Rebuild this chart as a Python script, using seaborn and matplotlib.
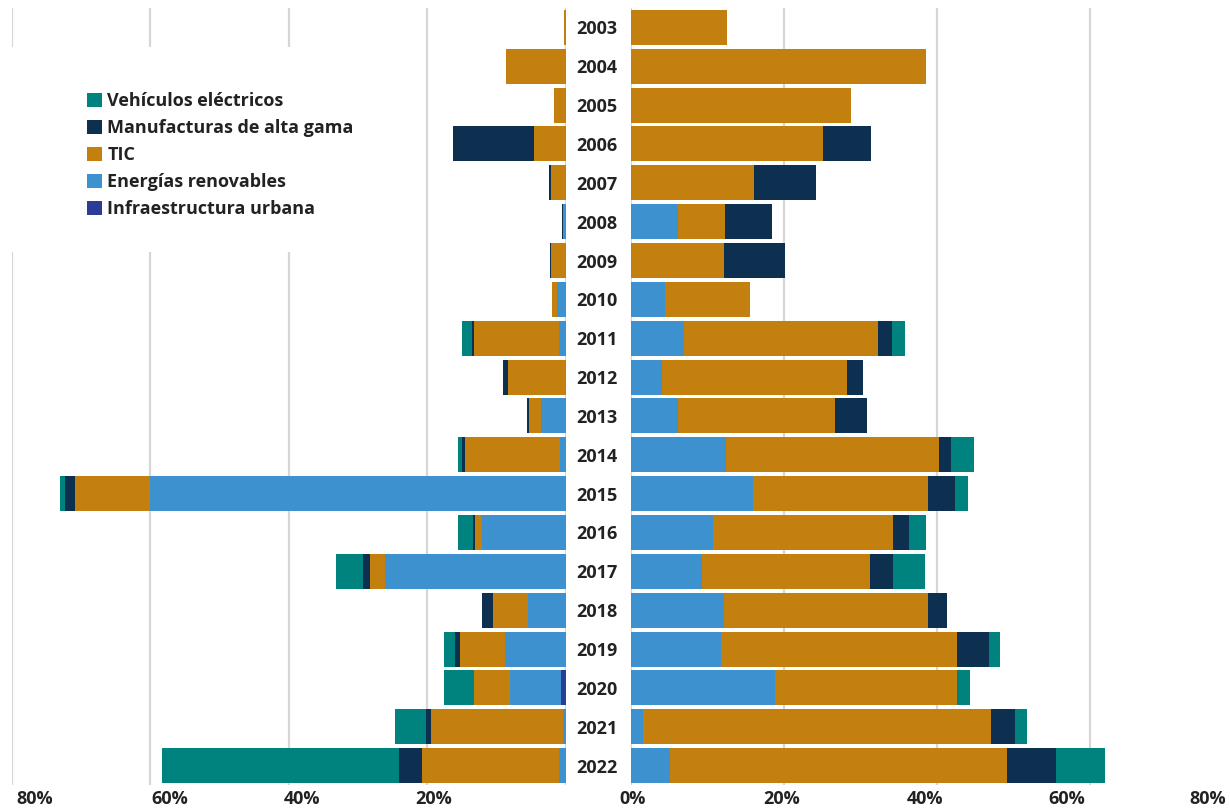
import numpy as np
import pandas as pd
import matplotlib
matplotlib.use("Agg")
import matplotlib.pyplot as plt
from matplotlib.patches import Patch, Rectangle
import seaborn as sns

years = [str(y) for y in range(2003, 2023)]

# stacking order, from the centre outwards
series = ["Infraestructura urbana", "Energías renovables", "TIC",
          "Manufacturas de alta gama", "Vehículos eléctricos"]
colors = {
    "Vehículos eléctricos": "#00837f",
    "Manufacturas de alta gama": "#0d3050",
    "TIC": "#c4800f",
    "Energías renovables": "#3c91ce",
    "Infraestructura urbana": "#2b3c98",
}

# left panel (%)
left_infra = [0, 0, 0, 0, 0, 0, 0, 0, 0, 0, 0, 0, 0, 0, 0, 0, 0, 0.7, 0, 0]
left_renov = [0, 0, 0, 0, 0, 0.4, 0, 1.3, 1.0, 0, 3.6, 0.8, 60.1, 12.0, 26.1, 5.4, 8.8, 7.3, 0.3, 1.0]
left_tic = [0.2, 8.6, 1.7, 4.5, 2.1, 0, 2.1, 0.7, 12.2, 8.3, 1.7, 13.7, 10.8, 1.1, 2.1, 5.1, 6.4, 5.2, 19.2, 19.7]
left_manuf = [0, 0, 0, 11.8, 0.3, 0.15, 0.2, 0, 0.3, 0.7, 0.2, 0.4, 1.5, 0.2, 1.1, 1.6, 0.8, 0, 0.6, 3.4]
left_ev = [0, 0, 0, 0, 0, 0, 0, 0, 1.4, 0, 0, 0.6, 0.6, 2.2, 3.9, 0, 1.5, 4.3, 4.6, 34.2]

# right panel (%)
right_infra = [0, 0, 0, 0, 0, 0, 0, 0, 0, 0, 0, 0, 0, 0, 0, 0, 0, 0, 0, 0]
right_renov = [0, 0, 0, 0, 0, 6.1, 0, 4.4, 6.9, 4.0, 6.1, 12.4, 15.9, 10.7, 9.3, 12.1, 11.8, 18.8, 1.6, 5.1]
right_tic = [12.6, 38.6, 28.7, 25.1, 16.1, 6.2, 12.1, 11.2, 25.4, 24.2, 20.6, 27.8, 22.9, 23.5, 21.9, 26.7, 30.8, 23.8, 45.5, 44.0]
right_manuf = [0, 0, 0, 6.3, 8.1, 6.1, 8.0, 0, 1.8, 2.1, 4.2, 1.6, 3.6, 2.2, 3.0, 2.5, 4.2, 0, 3.1, 6.4]
right_ev = [0, 0, 0, 0, 0, 0, 0, 0, 1.7, 0, 0, 3.0, 1.7, 2.1, 4.2, 0, 1.5, 1.7, 1.6, 6.4]

tick_labels = ["0%", "20%", "40%", "60%", "80%"]

sns.set_theme(style="white")
plt.rcParams["font.family"] = ["Open Sans", "DejaVu Sans"]
plt.rcParams["font.weight"] = "bold"
text_color = "#222222"
grid_color = "#d6d6d6"

W, H = 1230, 810
fig = plt.figure(figsize=(W / 100, H / 100), dpi=100)
ax_l = fig.add_axes([12 / W, 25 / H, (565.5 - 12) / W, 777 / H])
ax_r = fig.add_axes([631 / W, 25 / H, (W - 631) / W, 777 / H])


def draw_panel(ax, values):
    df = pd.DataFrame(values, index=years)[series]
    cum = df.cumsum(axis=1)
    # outermost first, then overdraw inner sums
    for name in series[::-1]:
        d = pd.DataFrame({"year": years, "val": cum[name].values})
        sns.barplot(data=d, x="val", y="year", orient="h", color=colors[name],
                    saturation=1, width=0.9, errorbar=None, linewidth=0, ax=ax)
    ax.set_xlabel("")
    ax.set_ylabel("")
    sns.despine(ax=ax, left=True, bottom=True)
    ax.set_xticks([0, 20, 40, 60, 80])
    ax.grid(axis="x", which="major", color=grid_color, linewidth=1.6)
    ax.set_axisbelow(True)
    ax.tick_params(axis="x", which="major", length=0, labelbottom=False)
    ax.tick_params(axis="x", which="minor", length=0, pad=3.5,
                   labelsize=13, labelcolor=text_color)


draw_panel(ax_l, {
    "Infraestructura urbana": left_infra, "Energías renovables": left_renov,
    "TIC": left_tic, "Manufacturas de alta gama": left_manuf,
    "Vehículos eléctricos": left_ev})
draw_panel(ax_r, {
    "Infraestructura urbana": right_infra, "Energías renovables": right_renov,
    "TIC": right_tic, "Manufacturas de alta gama": right_manuf,
    "Vehículos eléctricos": right_ev})

ax_l.set_xlim(80, 0)
ax_r.set_xlim(0, (W - 631) / 7.65)

# label positions as they sit under the reference axes
ax_l.set_xticks([0, 19.0, 38.1, 57.2, 76.7], tick_labels, minor=True)
ax_r.set_xticks([0.2, 19.7, 38.4, 56.9, 75.4], tick_labels, minor=True)

ax_l.tick_params(axis="y", length=0, labelleft=False)
ax_r.tick_params(axis="y", length=0, pad=(631 - 597) * 0.72,
                 labelsize=13, labelcolor=text_color)
for lbl in ax_r.get_yticklabels():
    lbl.set_horizontalalignment("center")

# white box behind the legend, hiding the gridlines
ax_l.add_patch(Rectangle((0, 1 - 252 / H), 380 / W, 205 / H, transform=fig.transFigure,
                         facecolor="white", edgecolor="none", zorder=1.5, clip_on=False))

legend_order = ["Vehículos eléctricos", "Manufacturas de alta gama", "TIC",
                "Energías renovables", "Infraestructura urbana"]
handles = [Patch(facecolor=colors[n], edgecolor="none") for n in legend_order]
leg = fig.legend(handles, legend_order, loc="upper left",
                 bbox_to_anchor=(87 / W, 1 - 92 / H), frameon=False, fontsize=13,
                 handlelength=0.83, handleheight=0.83, handletextpad=0.3,
                 labelspacing=0.50, borderpad=0, borderaxespad=0)
for t in leg.get_texts():
    t.set_color(text_color)

fig.savefig("out.png", dpi=100)
